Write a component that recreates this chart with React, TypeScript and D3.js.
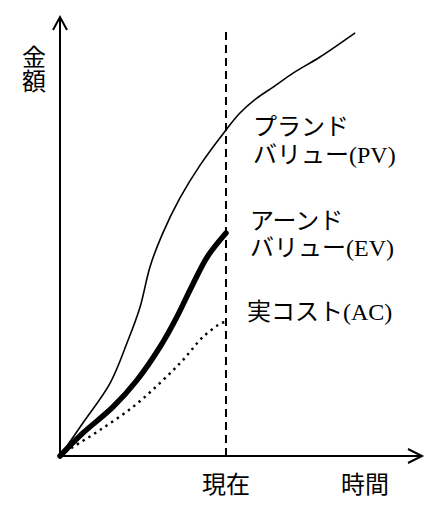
import React from 'react';
import * as d3 from 'd3';

// time axis: 0 = start, 50 = "now"; value axis: 0..100 (arbitrary money units)
const NOW = 50;

const pvTime = [0, 6.9, 15.1, 20.2, 24.1, 27.1, 30.7, 36.1, 42.2, 50, 54.2, 59.3, 64.2, 70.2, 78.3, 88.9];
const pvValue = [0, 7.8, 17.2, 26.7, 35.1, 44.6, 52.1, 60.8, 68.6, 76.9, 80.9, 84.4, 87.0, 90.3, 94.1, 99.8];

const evTime = [0, 6.9, 16.0, 23.2, 30.1, 35.2, 39.2, 44.3, 50];
const evValue = [0, 5.4, 11.6, 17.9, 25.7, 32.8, 39.2, 46.9, 52.6];

const acTime = [0, 3.9, 12.0, 22.0, 30.1, 37.0, 43.1, 48.8, 50];
const acValue = [0, 2.1, 6.1, 11.6, 17.2, 22.6, 28.1, 31.4, 31.6];

const yAxisLabel = ['金', '額'];
const xAxisLabel = '時間';
const nowLabel = '現在';
const pvLabel = ['プランド', 'バリュー(PV)'];
const evLabel = ['アーンド', 'バリュー(EV)'];
const acLabel = ['実コスト(AC)'];

const W = 440;
const H = 512;
const FONT = '"Liberation Serif", "Noto Sans CJK JP", serif';

const App: React.FC = () => {
  const x = d3.scaleLinear().domain([0, NOW]).range([60, 226]);
  const y = d3.scaleLinear().domain([0, 100]).range([456, 32]);

  const line = d3
    .line<[number, number]>()
    .x(d => x(d[0]))
    .y(d => y(d[1]))
    .curve(d3.curveCatmullRom.alpha(0.5));

  const zip = (t: number[], v: number[]) => t.map((d, i) => [d, v[i]] as [number, number]);

  const x0 = x(0);
  const y0 = y(0);
  const xEnd = 422;
  const yTop = 17;

  return (
    <svg
      width={W}
      height={H}
      style={{ position: 'absolute', left: 0, top: 0, background: '#fff' }}
      fontFamily={FONT}
    >
      <rect width={W} height={H} fill="#fff" />

      {/* axes */}
      <g stroke="#000" strokeWidth={2} fill="none">
        <line x1={x0} y1={y0} x2={x0} y2={yTop} />
        <polyline points={`${x0 - 7},${yTop + 13} ${x0},${yTop} ${x0 + 7},${yTop + 13}`} />
        <line x1={x0} y1={y0} x2={xEnd} y2={y0} />
        <polyline points={`${xEnd - 14},${y0 - 7} ${xEnd},${y0} ${xEnd - 14},${y0 + 7}`} />
      </g>

      {/* now line */}
      <line
        x1={x(NOW)}
        x2={x(NOW)}
        y1={y0}
        y2={28}
        stroke="#000"
        strokeWidth={2}
        strokeDasharray="8,5"
      />

      {/* curves */}
      <path d={line(zip(pvTime, pvValue)) ?? ''} fill="none" stroke="#000" strokeWidth={1.6} />
      <path
        d={line(zip(evTime, evValue)) ?? ''}
        fill="none"
        stroke="#000"
        strokeWidth={5.5}
        strokeLinecap="round"
      />
      <path
        d={line(zip(acTime, acValue)) ?? ''}
        fill="none"
        stroke="#000"
        strokeWidth={2.4}
        strokeDasharray="2.4,4.4"
      />

      {/* labels */}
      <g fontSize={24} fill="#000">
        <text x={253} y={135}>{pvLabel[0]}</text>
        <text x={253} y={163}>{pvLabel[1]}</text>
        <text x={250} y={229}>{evLabel[0]}</text>
        <text x={250} y={256}>{evLabel[1]}</text>
        <text x={247} y={320}>{acLabel[0]}</text>

        <text x={x(NOW)} y={493} textAnchor="middle">{nowLabel}</text>
        <text x={365} y={493} textAnchor="middle">{xAxisLabel}</text>

        {yAxisLabel.map((c, i) => (
          <text key={c} x={34} y={66 + i * 24} textAnchor="middle">{c}</text>
        ))}
      </g>
    </svg>
  );
};

export default App;
